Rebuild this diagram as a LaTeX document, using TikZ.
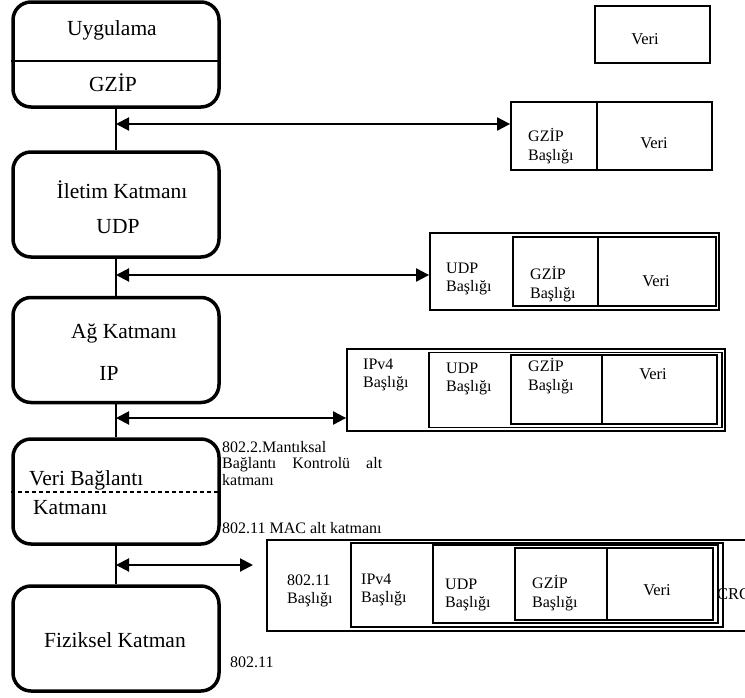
\documentclass[tikz,border=0pt]{standalone}
\usepackage{fontspec}
\setmainfont{Liberation Serif}
\usetikzlibrary{arrows.meta}
\begin{document}
\begin{tikzpicture}[x=1pt,y=-1pt,
 layer/.style={draw, line width=3.5pt, rounded corners=18pt, minimum width=206pt, minimum height=105pt, inner sep=0pt},
 pk/.style={draw, line width=1.8pt, inner sep=0pt},
 sep/.style={line width=1.8pt},
 lbl/.style={font=\fontsize{21.5}{24}\selectfont, inner sep=0pt},
 hd/.style={font=\fontsize{16}{18.5}\selectfont, align=left, anchor=west, inner sep=0pt},
 vr/.style={font=\fontsize{16.5}{19}\selectfont, inner sep=0pt},
 ann/.style={font=\fontsize{16}{18}\selectfont, anchor=base west, inner sep=0pt},
 conn/.style={line width=1.8pt},
 dbl/.style={line width=2pt, {Triangle[length=13pt,width=13pt]}-{Triangle[length=13pt,width=13pt]}}]
\useasboundingbox (0,0) rectangle (745,697);

% left layers
\node[layer] (b1) at (116,54.5) {};
\node[layer] (b2) at (116,204.5) {};
\node[layer] (b3) at (116,350) {};
\node[layer] (b4) at (116,491.5) {};
\node[layer] (b5) at (116,638.5) {};

\coordinate (d1) at (0,61);
\draw[line width=1.8pt] (b1.west |- d1) -- (b1.east |- d1);
\coordinate (d4) at (0,492);
\draw[line width=1.8pt, dash pattern=on 4pt off 3pt] (b4.west |- d4) -- (b4.east |- d4);

\node[lbl] (t1) at (112,30) {Uygulama};
\node[lbl] (t1b) at (113,83) {GZİP};
\node[lbl] (t2) at (122,190) {İletim Katmanı};
\node[lbl] (t2b) at (118,227) {UDP};
\node[lbl] (t3) at (124,333) {Ağ Katmanı};
\node[lbl] (t3b) at (109,373) {IP};
\node[lbl, anchor=west] (t4) at (29,480) {Veri Bağlantı};
\node[lbl, anchor=west] (t4b) at (33,508) {Katmanı};
\node[lbl] (t5) at (115,640) {Fiziksel Katman};

% vertical connectors
\draw[conn] (b1.south) -- (b2.north);
\draw[conn] (b2.south) -- (b3.north);
\draw[conn] (b3.south) -- (b4.north);
\draw[conn] (b4.south) -- (b5.north);

% packet 0
\node[pk, minimum width=115pt, minimum height=57pt] (v0) at (652.5,34.5) {};
\node[vr] (v0t) at (645,39) {Veri};

% packet 1
\node[pk, minimum width=201pt, minimum height=68pt] (p1) at (611.5,136) {};
\coordinate (p1d) at (597,136);
\draw[sep] (p1d |- p1.north) -- (p1d |- p1.south);
\node[hd] (p1g) at (528,146) {GZİP\\Başlığı};
\node[vr] (p1v) at (654,143) {Veri};

% packet 2
\node[pk, minimum width=289pt, minimum height=77pt] (p2) at (574.5,271.5) {};
\node[pk, minimum width=203pt, minimum height=69pt] (p2i) at (614.5,271.5) {};
\coordinate (p2d) at (598,271.5);
\draw[sep] (p2d |- p2i.north) -- (p2d |- p2i.south);
\node[hd] (p2u) at (446,279) {UDP\\Başlığı};
\node[hd] (p2g) at (530,284) {GZİP\\Başlığı};
\node[vr] (p2v) at (656,281) {Veri};

% packet 3
\node[pk, minimum width=378pt, minimum height=82pt] (p3) at (536,390) {};
\node[pk, minimum width=293pt, minimum height=75pt] (p3u) at (575.5,390) {};
\node[pk, minimum width=206pt, minimum height=69pt] (p3g) at (614,389.5) {};
\coordinate (p3d) at (602,389.5);
\draw[sep] (p3d |- p3g.north) -- (p3d |- p3g.south);
\node[hd] (p3i) at (363,375) {IPv4\\Başlığı};
\node[hd] (p3h) at (446,379) {UDP\\Başlığı};
\node[hd] (p3z) at (528,376) {GZİP\\Başlığı};
\node[vr] (p3v) at (653,374) {Veri};

% packet 4
\node[pk, minimum width=503pt, minimum height=91pt] (p4) at (518.5,585.5) {};
\node[pk, minimum width=372pt, minimum height=84pt] (p4i) at (537,585) {};
\node[pk, minimum width=285pt, minimum height=78pt] (p4u) at (575.5,584) {};
\node[pk, minimum width=198pt, minimum height=72pt] (p4g) at (614,584) {};
\coordinate (p4d) at (607,584);
\draw[sep] (p4d |- p4g.north) -- (p4d |- p4g.south);
\node[hd] (p4m) at (287,591) {802.11\\Başlığı};
\node[hd] (p4p) at (361,590) {IPv4\\Başlığı};
\node[hd] (p4h) at (445,595) {UDP\\Başlığı};
\node[hd] (p4z) at (532,593) {GZİP\\Başlığı};
\node[vr] (p4v) at (657,590) {Veri};
\node[vr, anchor=west] (p4c) at (717,594) {CRC};

% arrows
\coordinate (a1) at (116,124);
\draw[dbl] (a1) -- (a1 -| p1.west);
\coordinate (a2) at (116,275);
\draw[dbl] (a2) -- (a2 -| p2.west);
\coordinate (a3) at (116,418);
\draw[dbl] (a3) -- (a3 -| p3.west);
\coordinate (a4) at (116,565);
\coordinate (a4e) at (253,565);
\draw[dbl] (a4) -- (a4e);

% annotations
\node[ann] (n1) at (222,452) {802.2.Mantıksal};
\node[ann, text width=160pt, align=justify] (n2) at (222,468) {Bağlantı\hfill Kontrolü\hfill alt};
\node[ann] (n3) at (222,485) {katmanı};
\node[ann] (n4) at (222,533) {802.11 MAC alt katmanı};
\node[ann] (n5) at (230,667) {802.11};
\end{tikzpicture}
\end{document}
